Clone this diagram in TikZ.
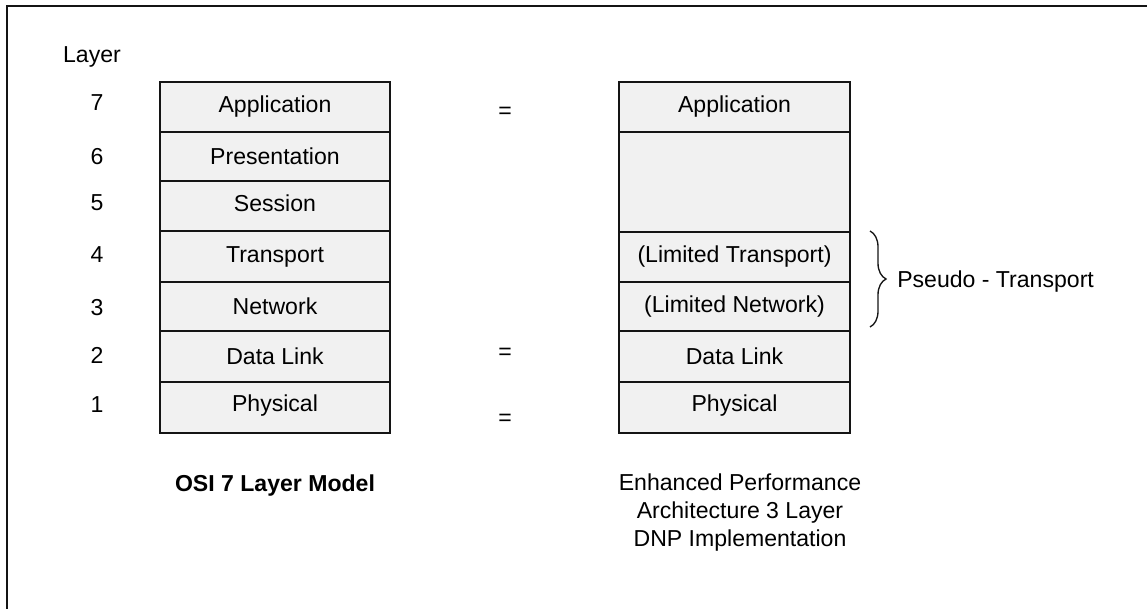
\documentclass[tikz,border=0pt]{standalone}
\usepackage{fontspec}
\setmainfont{Liberation Sans}
\usetikzlibrary{decorations.pathreplacing}
\definecolor{layerfill}{HTML}{F1F1F1}
\definecolor{ink}{HTML}{141414}
\tikzset{
  layerbox/.style={draw=ink, line width=2.1pt, fill=layerfill, inner sep=0pt},
  lbl/.style={text=black, font=\fontsize{17.3}{21}\selectfont, inner sep=0pt},
  eqsign/.style={lbl},
}
\newcommand{\layerrow}[5]{% name, x1, y1, x2, y2
  \path[layerbox] (#2,#3) rectangle (#4,#5);
  \coordinate (#1) at ({(#2+#4)/2},{(#3+#5)/2});
}
\begin{document}
\begin{tikzpicture}[x=0.75pt, y=-0.75pt]
\useasboundingbox (0,0) rectangle (1147,609);
% frame
\draw[ink, line width=1.6pt] (7,609) -- (7,6) -- (1147,6);

% OSI stack
\layerrow{o7}{160}{82}{390}{132}
\layerrow{o6}{160}{132}{390}{181}
\layerrow{o5}{160}{181}{390}{231}
\layerrow{o4}{160}{231}{390}{282}
\layerrow{o3}{160}{282}{390}{331}
\layerrow{o2}{160}{331}{390}{382}
\layerrow{o1}{160}{382}{390}{433}
\node[lbl] at (o7) {Application};
\node[lbl] at (o6) {Presentation};
\node[lbl] at ([yshift=2pt]o5) {Session};
\node[lbl] at (o4) {Transport};
\node[lbl] at (o3) {Network};
\node[lbl] at (o2) {Data Link};
\node[lbl] at ([yshift=1.5pt]o1) {Physical};

% EPA stack
\layerrow{e7}{619}{82}{850}{132}
\layerrow{e65}{619}{132}{850}{232}
\layerrow{e4}{619}{232}{850}{282}
\layerrow{e3}{619}{282}{850}{331}
\layerrow{e2}{619}{331}{850}{382}
\layerrow{e1}{619}{382}{850}{433}
\node[lbl] at (e7) {Application};
\node[lbl] (lt) at (e4) {(Limited Transport)};
\node[lbl] (ln) at (e3) {(Limited Network)};
\node[lbl] at (e2) {Data Link};
\node[lbl] at ([yshift=1.5pt]e1) {Physical};

% layer numbers
\node[lbl] (hdr) at (92,57) {Layer};
\node[lbl] (n7) at (97,103) {7};
\node[lbl] (n6) at (97,157) {6};
\node[lbl] (n5) at (97,203) {5};
\node[lbl] (n4) at (97,255) {4};
\node[lbl] (n3) at (97,308) {3};
\node[lbl] (n2) at (97,355) {2};
\node[lbl] (n1) at (97,405) {1};

% equivalences
\node[eqsign] (q7) at (505,113) {=};
\node[eqsign] (q2) at (505,354) {=};
\node[eqsign] (q1) at (505,420) {=};

% pseudo-transport brace
\coordinate (bt) at (870,231);
\coordinate (bb) at (870,327);
\draw[ink, line width=1pt, decoration={brace, amplitude=12pt, aspect=0.5}, decorate] (bt) -- (bb);
\node[lbl, anchor=west] (pt) at (897,282) {Pseudo - Transport};

% captions
\node[lbl, font=\fontsize{17.3}{21}\bfseries] (cap1) at (275,486) {OSI 7 Layer Model};
\node[lbl, align=center, font=\fontsize{17.3}{21}\selectfont] (cap2) at (740,513)
  {Enhanced Performance\\Architecture 3 Layer\\DNP Implementation};
\end{tikzpicture}
\end{document}
